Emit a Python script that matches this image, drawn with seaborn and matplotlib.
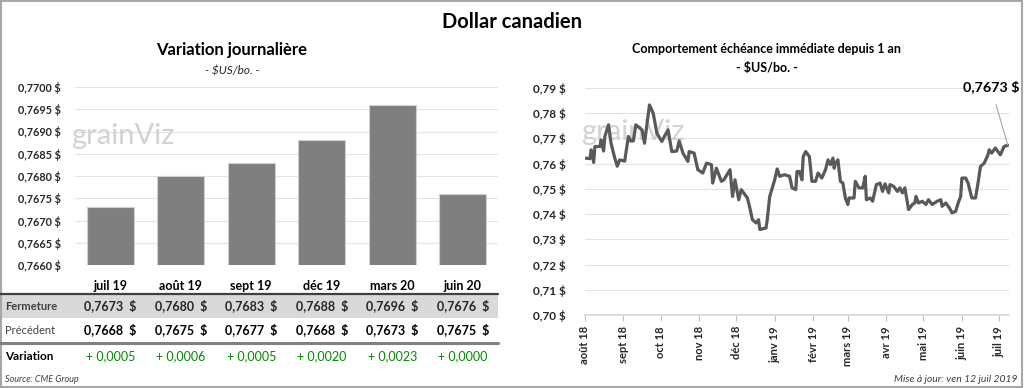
import pandas as pd
import matplotlib.pyplot as plt
import matplotlib.dates as mdates
import matplotlib.transforms as mtransforms
from matplotlib.patches import Rectangle
from matplotlib.lines import Line2D
import seaborn as sns

# -------------------------------------------
# Données
# -------------------------------------------
echeances = ['juil 19', 'août 19', 'sept 19', 'déc 19', 'mars 20', 'juin 20']
fermeture = [0.7673, 0.7680, 0.7683, 0.7688, 0.7696, 0.7676]
precedent = [0.7668, 0.7675, 0.7677, 0.7668, 0.7673, 0.7675]
variation = [0.0005, 0.0006, 0.0005, 0.0020, 0.0023, 0.0000]

dates_1an = ['2018-08-01', '2018-08-05', '2018-08-06', '2018-08-08', '2018-08-09', '2018-08-13',
             '2018-08-14', '2018-08-16', '2018-08-17', '2018-08-20', '2018-08-22', '2018-08-25',
             '2018-08-27', '2018-08-29', '2018-09-02', '2018-09-05', '2018-09-07', '2018-09-09',
             '2018-09-11', '2018-09-16', '2018-09-18', '2018-09-22', '2018-09-25', '2018-09-28',
             '2018-10-02', '2018-10-04', '2018-10-07', '2018-10-10', '2018-10-14', '2018-10-16',
             '2018-10-19', '2018-10-23', '2018-10-24', '2018-10-28', '2018-10-31', '2018-11-04',
             '2018-11-07', '2018-11-11', '2018-11-12', '2018-11-15', '2018-11-19', '2018-11-21',
             '2018-11-26', '2018-11-28', '2018-11-30', '2018-12-03', '2018-12-05', '2018-12-10',
             '2018-12-12', '2018-12-14', '2018-12-17', '2018-12-19', '2018-12-20', '2018-12-25',
             '2018-12-26', '2018-12-28', '2019-01-01', '2019-01-03', '2019-01-05', '2019-01-09',
             '2019-01-13', '2019-01-15', '2019-01-18', '2019-01-19', '2019-01-21', '2019-01-23',
             '2019-01-24', '2019-01-26', '2019-01-29', '2019-01-31', '2019-02-03', '2019-02-05',
             '2019-02-08', '2019-02-11', '2019-02-13', '2019-02-15', '2019-02-17', '2019-02-18',
             '2019-02-19', '2019-02-21', '2019-02-23', '2019-02-25', '2019-02-27', '2019-03-01',
             '2019-03-02', '2019-03-06', '2019-03-07', '2019-03-10', '2019-03-13', '2019-03-15',
             '2019-03-16', '2019-03-19', '2019-03-21', '2019-03-24', '2019-03-27', '2019-03-29',
             '2019-03-31', '2019-04-03', '2019-04-04', '2019-04-07', '2019-04-10', '2019-04-12',
             '2019-04-14', '2019-04-16', '2019-04-19', '2019-04-22', '2019-04-24', '2019-04-25',
             '2019-04-27', '2019-04-30', '2019-05-03', '2019-05-05', '2019-05-08', '2019-05-12',
             '2019-05-15', '2019-05-16', '2019-05-19', '2019-05-22', '2019-05-24', '2019-05-27',
             '2019-05-29', '2019-05-31', '2019-06-01', '2019-06-04', '2019-06-06', '2019-06-09',
             '2019-06-12', '2019-06-14', '2019-06-16', '2019-06-19', '2019-06-22', '2019-06-23',
             '2019-06-25', '2019-06-28', '2019-07-02', '2019-07-05', '2019-07-08']
prix_1an = [0.7622, 0.7620, 0.7655, 0.7605, 0.7668, 0.7668,
            0.7694, 0.7650, 0.7708, 0.7754, 0.7681, 0.7622,
            0.7590, 0.7615, 0.7610, 0.7708, 0.7690, 0.7690,
            0.7754, 0.7734, 0.7681, 0.7833, 0.7800, 0.7720,
            0.7688, 0.7708, 0.7734, 0.7648, 0.7650, 0.7690,
            0.7642, 0.7609, 0.7648, 0.7642, 0.7576, 0.7563,
            0.7602, 0.7596, 0.7523, 0.7582, 0.7530, 0.7536,
            0.7576, 0.7470, 0.7536, 0.7457, 0.7497, 0.7464,
            0.7424, 0.7378, 0.7365, 0.7378, 0.7339, 0.7345,
            0.7378, 0.7470, 0.7536, 0.7579, 0.7550, 0.7556,
            0.7550, 0.7504, 0.7497, 0.7569, 0.7569, 0.7536,
            0.7628, 0.7648, 0.7628, 0.7530, 0.7530, 0.7563,
            0.7543, 0.7576, 0.7615, 0.7596, 0.7622, 0.7582,
            0.7602, 0.7615, 0.7530, 0.7523, 0.7464, 0.7438,
            0.7464, 0.7464, 0.7530, 0.7504, 0.7504, 0.7550,
            0.7457, 0.7464, 0.7451, 0.7517, 0.7523, 0.7490,
            0.7520, 0.7484, 0.7517, 0.7510, 0.7490, 0.7504,
            0.7484, 0.7504, 0.7418, 0.7438, 0.7444, 0.7470,
            0.7444, 0.7451, 0.7438, 0.7457, 0.7438, 0.7451,
            0.7457, 0.7431, 0.7444, 0.7424, 0.7405, 0.7411,
            0.7444, 0.7470, 0.7543, 0.7543, 0.7523, 0.7464,
            0.7464, 0.7523, 0.7589, 0.7602, 0.7635, 0.7655,
            0.7642, 0.7662, 0.7635, 0.7668, 0.7673]

mois_labels = ['août 18', 'sept 18', 'oct 18', 'nov 18', 'déc 18', 'janv 19',
               'févr 19', 'mars 19', 'avr 19', 'mai 19', 'juin 19', 'juil 19']
mois_dates = ['2018-08-01', '2018-09-01', '2018-10-01', '2018-11-01', '2018-12-01', '2019-01-01',
              '2019-02-01', '2019-03-01', '2019-04-01', '2019-05-01', '2019-06-01', '2019-07-01']

sns.set_theme(style="white")
plt.rcParams['font.family'] = ['Lato', 'DejaVu Sans']

W, H = 1024, 388
fig = plt.figure(figsize=(W / 100, H / 100), dpi=100)


def px_axes(x0, y0, x1, y1):
    return fig.add_axes([x0 / W, 1 - y1 / H, (x1 - x0) / W, (y1 - y0) / H])


def fy(y):
    return 1 - y / H


gris_txt = '#262626'
grille = '#e3e3e3'

# cadre
fig.patches.append(Rectangle((0.001, 0.002), 0.997, 0.995, transform=fig.transFigure,
                             fill=False, edgecolor='#a6a6a6', lw=1.5))

fig.text(0.5, fy(22), 'Dollar canadien', ha='center', va='center', fontsize=14.5,
         fontweight='bold', color='black')

# -------------------------------------------
# Graphique à barres
# -------------------------------------------
df_bar = pd.DataFrame({'echeance': echeances, 'fermeture': fermeture})
ax1 = px_axes(75, 87, 498, 265)
sns.barplot(data=df_bar, x='echeance', y='fermeture', color='#7f7f7f', saturation=1,
            width=0.66, edgecolor='#d0d0d0', linewidth=0.8, ax=ax1, zorder=3)
ax1.set_ylim(0.7660, 0.7700)
ax1.set_yticks([0.7660 + i * 0.0005 for i in range(9)])
ax1.set_yticklabels([f'{0.7660 + i * 0.0005:.4f} $'.replace('.', ',') for i in range(9)],
                    fontsize=7.8, fontweight='bold', color=gris_txt)
ax1.set_xticks([])
ax1.set_xlabel('')
ax1.set_ylabel('')
ax1.grid(axis='y', color=grille, lw=0.8, zorder=0)
for s in ax1.spines.values():
    s.set_visible(False)
ax1.tick_params(axis='y', length=0, pad=10)
ax1.text(-0.01, 0.68, 'grainViz', transform=ax1.transAxes, fontsize=21, color='#c8c8c8',
         alpha=0.8, zorder=1)

fig.text(232 / W, fy(50), 'Variation journalière', ha='center', va='center', fontsize=12,
         fontweight='bold', color='black')
fig.text(232 / W, fy(71), '- $US/bo. -', ha='center', va='center', fontsize=8.5,
         style='italic', color=gris_txt)

# tableau sous les barres
tr = mtransforms.blended_transform_factory(ax1.transData, fig.transFigure)
fig.add_artist(Rectangle((0, fy(318)), 498 / W, (318 - 295) / H, transform=fig.transFigure,
                         facecolor='#d9d9d9', edgecolor='none', zorder=0))
fig.add_artist(Line2D([0, 498 / W], [fy(294), fy(294)], color='#404040', lw=1.6))
fig.add_artist(Line2D([0, 498 / W], [fy(343), fy(343)], color='#808080', lw=2.2))
fig.text(5 / W, fy(306), 'Fermeture', va='center', fontsize=8, fontweight='bold', color='#404040')
fig.text(5 / W, fy(330), 'Précédent', va='center', fontsize=8, color='#404040')
fig.text(5 / W, fy(356), 'Variation', va='center', fontsize=8.5, fontweight='bold', color='black')
for i, nom in enumerate(echeances):
    fig.text(i, fy(286), nom, transform=tr, ha='center', va='center', fontsize=9,
             fontweight='bold', color='black')
    fig.text(i, fy(306), f'{fermeture[i]:.4f}  $'.replace('.', ','), transform=tr,
             ha='center', va='center', fontsize=9, fontweight='bold', color=gris_txt)
    fig.text(i, fy(330), f'{precedent[i]:.4f}  $'.replace('.', ','), transform=tr,
             ha='center', va='center', fontsize=9, fontweight='bold', color='black')
    fig.text(i, fy(356), f'+ {variation[i]:.4f}'.replace('.', ','), transform=tr,
             ha='center', va='center', fontsize=9, color='#008a00')
fig.text(5 / W, fy(380), 'Source: CME Group', va='center', fontsize=6.5, style='italic',
         color='#404040')

# -------------------------------------------
# Graphique en ligne
# -------------------------------------------
df_ligne = pd.DataFrame({'date': pd.to_datetime(dates_1an), 'prix': prix_1an})
ax2 = px_axes(585, 88, 1009, 315)
sns.lineplot(data=df_ligne, x='date', y='prix', color='#595959', lw=2.3, ax=ax2, zorder=3)
ax2.set_xlim(pd.Timestamp('2018-08-01'), pd.Timestamp('2019-07-09'))
ax2.set_ylim(0.70, 0.79)
ax2.set_yticks([0.70 + i * 0.01 for i in range(10)])
ax2.set_yticklabels([f'{0.70 + i * 0.01:.2f} $'.replace('.', ',') for i in range(10)],
                    fontsize=8.5, fontweight='bold', color=gris_txt)
ax2.set_xticks(pd.to_datetime(mois_dates))
ax2.set_xticklabels(mois_labels, rotation=90, fontsize=8, fontweight='bold', color=gris_txt)
ax2.set_xlabel('')
ax2.set_ylabel('')
ax2.grid(axis='y', color=grille, lw=0.8, zorder=0)
for s in ax2.spines.values():
    s.set_visible(False)
ax2.spines['bottom'].set_visible(True)
ax2.spines['bottom'].set_color('#d9d9d9')
ax2.tick_params(axis='y', length=0, pad=14)
ax2.tick_params(axis='x', length=4, width=0.8, color='#bfbfbf', bottom=True, pad=4)
ax2.text(-0.01, 0.77, 'grainViz', transform=ax2.transAxes, fontsize=21, color='#c8c8c8',
         alpha=0.8, zorder=1)

fig.text(767 / W, fy(49), 'Comportement échéance immédiate depuis 1 an', ha='center',
         va='center', fontsize=9, fontweight='bold', color='black')
fig.text(767 / W, fy(68), '- $US/bo. -', ha='center', va='center', fontsize=9,
         fontweight='bold', color='black')

dernier_x = df_ligne['date'].iloc[-1]
dernier_y = df_ligne['prix'].iloc[-1]
ax2.annotate(f'{dernier_y:.4f} $'.replace('.', ','), xy=(dernier_x, dernier_y),
             xytext=(991 / W, fy(87)), textcoords='figure fraction', ha='center', va='center',
             fontsize=10.3, fontweight='bold', color='black',
             arrowprops=dict(arrowstyle='-', color='#a6a6a6', lw=0.8, shrinkA=6, shrinkB=0))

fig.text(1017 / W, fy(380), 'Mise à jour: ven 12 juil 2019', ha='right', va='center',
         fontsize=7.5, style='italic', color='#404040')

plt.savefig('out.png', dpi=100)
